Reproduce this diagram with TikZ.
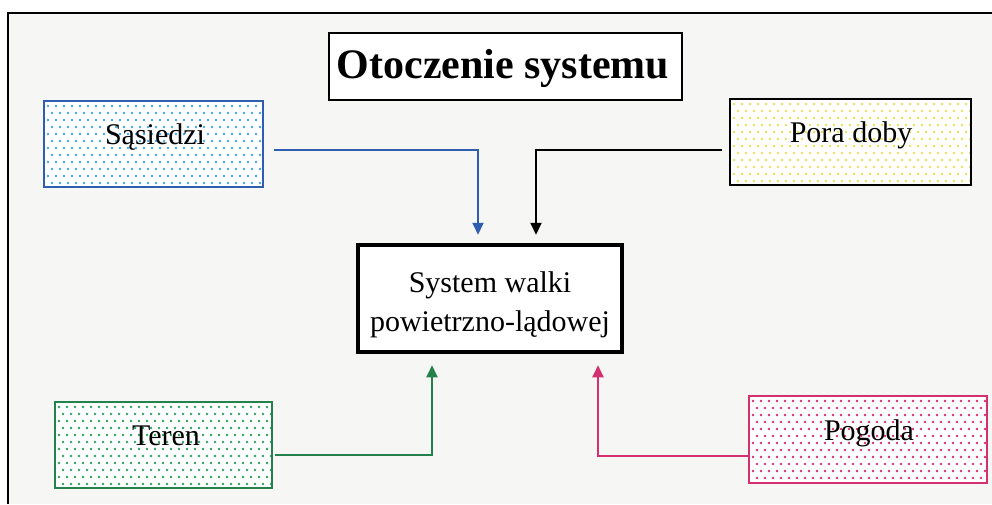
\documentclass[tikz,border=0pt]{standalone}
\usepackage{fontspec}
\setmainfont{Liberation Serif}
\usetikzlibrary{calc,arrows.meta}
\definecolor{sqblue}{HTML}{2F5DB0}
\definecolor{sqdot}{HTML}{3FA6E4}
\definecolor{pdot}{HTML}{E8E05A}
\definecolor{tgreen}{HTML}{23824C}
\definecolor{tdot}{HTML}{2E9E5C}
\definecolor{gpink}{HTML}{D2306E}
\definecolor{gdot}{HTML}{D83070}
\definecolor{paper}{HTML}{F6F6F4}
\newcommand\mydots[5]{%
  \begin{scope}
    \clip (#1,#2) rectangle (#3,#4);
    \pgfmathtruncatemacro\nrows{(#4-#2)/7}
    \pgfmathtruncatemacro\ncols{(#3-#1)/8}
    \foreach \r in {0,...,\nrows}{
      \pgfmathsetmacro\off{mod(\r,2)*4}
      \foreach \c in {0,...,\ncols}{
        \fill[#5] ({#1+4+\off+\c*8},{#2+5+\r*7}) circle (1.45);
      }
    }
  \end{scope}}
\tikzset{
  box/.style={draw, line width=2.2pt, inner sep=0pt, fill=none},
  lbl/.style={anchor=base, inner sep=0pt, font=\fontsize{30}{36}\selectfont},
  conn/.style={line width=2pt, -{Triangle[length=12pt,width=11pt]}},
}
\begin{document}
\begin{tikzpicture}[x=1pt,y=-1pt]
\useasboundingbox (0,0) rectangle (992,504);
\fill[white] (0,0) rectangle (992,504);
\fill[paper] (8,13) rectangle (992,504);
\draw[line width=2.2pt] (992,13) -- (8,13) -- (8,504);
% box fills
\fill[white] (44,101) rectangle (263,187);
\mydots{44}{101}{263}{187}{sqdot}
\fill[white] (730,99) rectangle (971,185);
\mydots{730}{99}{971}{185}{pdot}
\fill[white] (55,402) rectangle (272,488);
\mydots{55}{402}{272}{488}{tdot}
\fill[white] (749,396) rectangle (987,483);
\mydots{749}{396}{987}{483}{gdot}
% title
\node[box, fill=white, minimum width=353pt, minimum height=67pt] (title) at (505.5,66.5) {};
\node[anchor=base, inner sep=0pt, font=\fontsize{42}{48}\selectfont\bfseries] (titletxt) at (503,78) {Otoczenie systemu};
% boxes
\node[box, draw=sqblue, minimum width=219pt, minimum height=86pt] (s) at (153.5,144) {};
\node[lbl] (stxt) at (155,144) {Sąsiedzi};
\node[box, draw=black, line width=2.4pt, minimum width=241pt, minimum height=86pt] (p) at (850.5,142) {};
\node[lbl] (ptxt) at (851,142) {Pora doby};
\node[box, draw=tgreen, minimum width=217pt, minimum height=86pt] (t) at (163.5,445) {};
\node[lbl] (ttxt) at (166,445) {Teren};
\node[box, draw=gpink, minimum width=238pt, minimum height=87pt] (g) at (868,439.5) {};
\node[lbl] (gtxt) at (869,440) {Pogoda};
% central
\node[box, fill=white, line width=4.5pt, minimum width=264pt, minimum height=107pt] (c) at (490,298.5) {};
\node[lbl] (c1) at (490,292) {System walki};
\node[lbl] (c2) at (490,331) {powietrzno-lądowej};
% connectors
\draw[conn, sqblue] ($(s.east)+(10,6)$) -| ($(c.north)+(-12,-8)$);
\draw[conn, black] ($(p.west)+(-7,8)$) -| ($(c.north)+(46,-8)$);
\draw[conn, tgreen] ($(t.east)+(2,10)$) -| ($(c.south)+(-58,11)$);
\draw[conn, gpink] ($(g.west)+(0,16.5)$) -| ($(c.south)+(108,11)$);
\end{tikzpicture}
\end{document}
